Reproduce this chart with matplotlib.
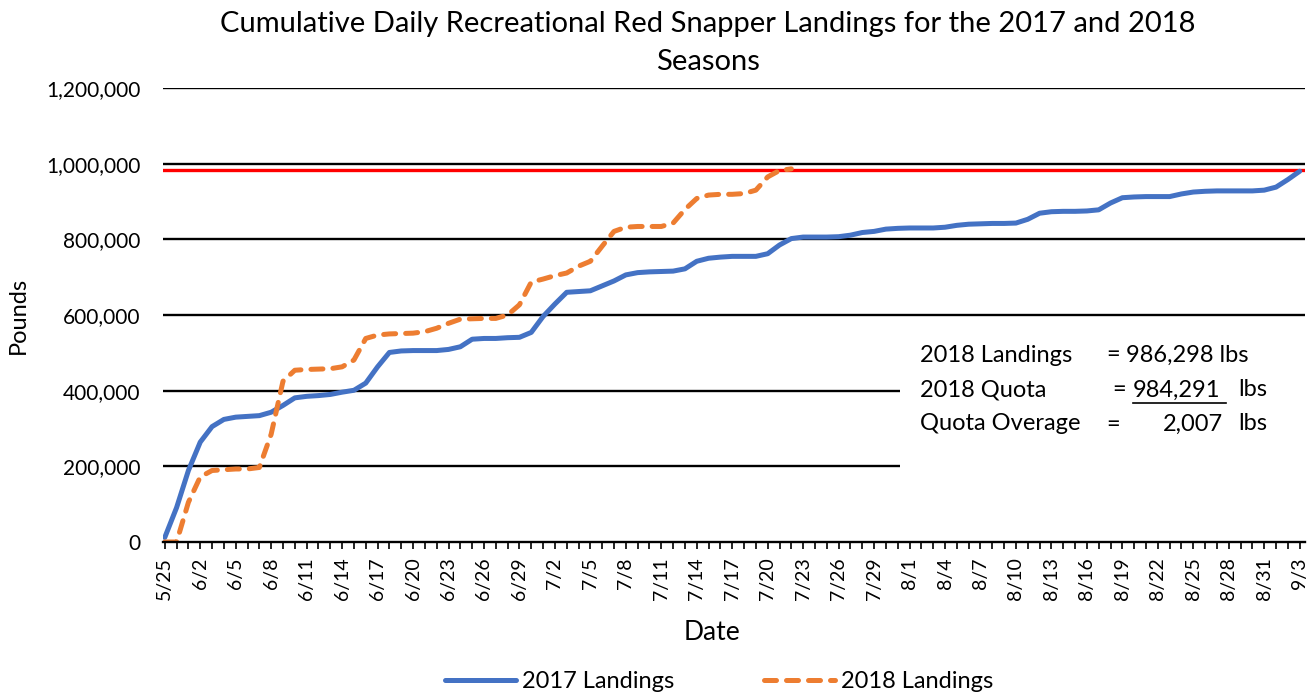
import matplotlib
matplotlib.use("Agg")
import matplotlib.pyplot as plt
import pandas as pd

plt.rcParams['font.family'] = ['Lato', 'DejaVu Sans']

# ---- data ----
categories = ['5/25', '5/31', '6/1'] + [f"{d.month}/{d.day}" for d in pd.date_range('2017-06-02', '2017-09-03')]

landings_2017 = [
    12000, 91000, 189000, 264000, 305000, 324000, 330000, 332000, 334000, 343000,
    361000, 381000, 385000, 387000, 390000, 396000, 401000, 420000, 463000, 501000,
    505000, 506000, 506000, 506000, 509000, 516000, 536000, 538000, 538000, 540000,
    541000, 554000, 596000, 629000, 660000, 662000, 664000, 677000, 690000, 706000,
    712000, 714000, 715000, 716000, 722000, 742000, 750000, 753000, 755000, 755000,
    755000, 762000, 785000, 802000, 806000, 806000, 806000, 807000, 811000, 818000,
    821000, 827000, 829000, 830000, 830000, 830000, 832000, 837000, 840000, 841000,
    842000, 842000, 843000, 853000, 869000, 873000, 874000, 874000, 875000, 878000,
    896000, 910000, 912000, 913000, 913000, 913000, 920000, 925000, 927000, 928000,
    928000, 928000, 928000, 930000, 938000, 958000, 980000,
]

landings_2018 = [
    0, 0, 105000, 172000, 189000, 191000, 193000, 193000, 197000, 285000,
    425000, 454000, 456000, 457000, 458000, 463000, 481000, 538000, 547000, 550000,
    551000, 552000, 556000, 565000, 578000, 589000, 590000, 591000, 591000, 600000,
    627000, 687000, 695000, 704000, 711000, 729000, 742000, 782000, 821000, 832000,
    834000, 834000, 834000, 843000, 879000, 908000, 917000, 919000, 919000, 921000,
    930000, 965000, 982000, 986298,
]

quota_2018 = 984291
y_ticks = [0, 200000, 400000, 600000, 800000, 1000000, 1200000]

# ---- figure ----
W, H = 1307, 696
fig = plt.figure(figsize=(W / 100, H / 100), dpi=100)

def fx(px):
    return px / W

def fy(py):
    return 1 - py / H

ax = fig.add_axes([fx(163), fy(542), fx(1305) - fx(163), fy(88) - fy(542)])

x17 = list(range(len(landings_2017)))
x18 = list(range(len(landings_2018)))

for yv in y_ticks[1:]:
    ax.axhline(yv, color='black', lw=1.7, zorder=1)

ax.axhline(quota_2018, color='#FF0000', lw=2.4, zorder=2)

ax.plot(x17, landings_2017, color='#4472C4', lw=3.6, solid_capstyle='round',
        solid_joinstyle='round', label='2017 Landings', zorder=3)
ax.plot(x18, landings_2018, color='#ED7D31', lw=3.6, dashes=(2.4, 2.0),
        dash_capstyle='round', label='2018 Landings', zorder=4)

ax.set_xlim(-0.15, len(categories) - 1 + 0.45)
ax.set_ylim(0, 1200000)

ax.set_xticks(range(len(categories)))
ax.set_xticklabels([c if i % 3 == 0 else '' for i, c in enumerate(categories)],
                   rotation=90, fontsize=14)
ax.tick_params(axis='x', length=5, width=1.2, color='black', pad=6)
ax.set_yticks(y_ticks)
ax.set_yticklabels([f"{v:,}" for v in y_ticks], fontsize=15)
ax.tick_params(axis='y', length=0, pad=16)

for s in ['top', 'right', 'left']:
    ax.spines[s].set_visible(False)
ax.spines['bottom'].set_color('black')
ax.spines['bottom'].set_linewidth(1.7)
ax.spines['bottom'].set_zorder(5)

fig.text(fx(708), fy(24), 'Cumulative Daily Recreational Red Snapper Landings for the 2017 and 2018',
         ha='center', va='center', fontsize=21)
fig.text(fx(708), fy(62), 'Seasons', ha='center', va='center', fontsize=21)
fig.text(fx(712), fy(632), 'Date', ha='center', va='center', fontsize=19)
fig.text(fx(18), fy(315), 'Pounds', ha='center', va='center', fontsize=17, rotation=90)

# annotation box
ax.add_patch(plt.Rectangle((fx(900), fy(470)), fx(1307) - fx(900), fy(335) - fy(470),
                           transform=fig.transFigure, facecolor='white', edgecolor='none',
                           zorder=6, clip_on=False))
fs_box = 17
rows = [(355, '2018 Landings', 1106), (390, '2018 Quota', 1112), (424, 'Quota Overage', 1106)]
for yy, lab, xeq in rows:
    fig.text(fx(920), fy(yy), lab, ha='left', va='center', fontsize=fs_box, zorder=7)
    fig.text(fx(xeq), fy(yy), '=', ha='left', va='center', fontsize=fs_box, zorder=7)
fig.text(fx(1126), fy(355), '986,298 lbs', ha='left', va='center', fontsize=fs_box, zorder=7)
fig.text(fx(1133), fy(390), '984,291', ha='left', va='center', fontsize=fs_box, zorder=7)
fig.lines.append(plt.Line2D([fx(1133), fx(1226)], [fy(403), fy(403)], transform=fig.transFigure,
                            color='black', lw=1.2))
fig.text(fx(1238), fy(390), 'lbs', ha='left', va='center', fontsize=fs_box, zorder=7)
fig.text(fx(1163), fy(424), '2,007', ha='left', va='center', fontsize=fs_box, zorder=7)
fig.text(fx(1238), fy(424), 'lbs', ha='left', va='center', fontsize=fs_box, zorder=7)

leg = fig.legend(loc='center', bbox_to_anchor=(fx(719), fy(682)), ncol=2, frameon=False,
                 fontsize=17, handlelength=3.0, handletextpad=0.25, columnspacing=3.8)

fig.savefig('out.png', dpi=100)
